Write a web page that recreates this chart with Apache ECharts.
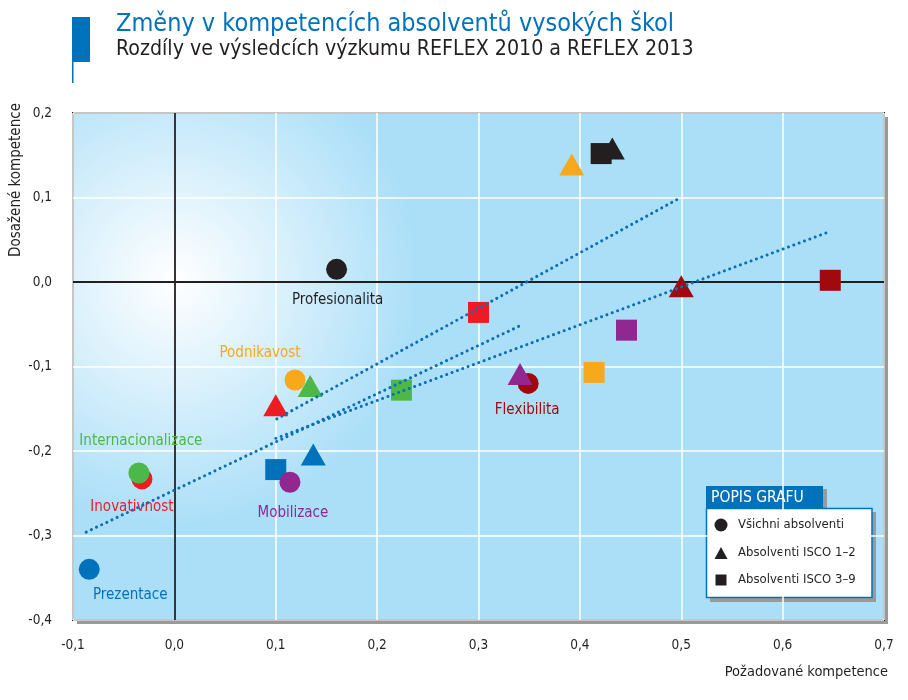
<!DOCTYPE html>
<html>
<head>
<meta charset="utf-8">
<script src="https://cdn.jsdelivr.net/npm/echarts@6/dist/echarts.min.js"></script>
<style>
html,body{margin:0;padding:0;background:#fff;}
#chart{width:908px;height:700px;}
</style>
</head>
<body>
<div id="chart"></div>
<script>
// ---- data ----
var categories = ['Profesionalita','Podnikavost','Inovativnost','Internacionalizace','Prezentace','Mobilizace','Flexibilita'];
// Všichni absolventi (circles)
var allX = [0.160, 0.119, -0.032, -0.035, -0.084, 0.114, 0.349];
var allY = [0.015, -0.116, -0.233, -0.226, -0.340, -0.237, -0.120];
// Absolventi ISCO 1–2 (triangles)
var isco12X = [0.432, 0.392, 0.100, 0.134, 0.137, 0.341, 0.500];
var isco12Y = [0.158, 0.139, -0.146, -0.123, -0.204, -0.109, -0.005];
// Absolventi ISCO 3–9 (squares)
var isco39X = [0.421, 0.414, 0.300, 0.224, 0.100, 0.446, 0.647];
var isco39Y = [0.152, -0.107, -0.036, -0.128, -0.222, -0.057, 0.002];
// trend lines (start/end)
var trendAllX = [-0.087, 0.344];
var trendAllY = [-0.296, -0.050];
var trend12X = [0.101, 0.498];
var trend12Y = [-0.162, 0.099];
var trend39X = [0.100, 0.645];
var trend39Y = [-0.185, 0.059];
var xTicks = [-0.1, 0.0, 0.1, 0.2, 0.3, 0.4, 0.5, 0.6, 0.7];
var yTicks = [-0.4, -0.3, -0.2, -0.1, 0.0, 0.1, 0.2];
var legendNames = ['Všichni absolventi', 'Absolventi ISCO 1–2', 'Absolventi ISCO 3–9'];

// ---- styles ----
var FONT = '"Liberation Sans Narrow","DejaVu Sans Condensed","Roboto",sans-serif';
var colors = ['#231f20','#f7a81b','#ed1c24','#4db848','#0072bc','#92278f','#a0090e'];
var labelOffsets = [[1,31],[-35,-27],[-10,28],[2,-32],[41,26],[3,31],[-1,27]];

function pairs(xs, ys){ return xs.map(function(x,i){ return [x, ys[i]]; }); }
function fmt(v){ return v.toFixed(1).replace('.', ','); }

var circleData = allX.map(function(x,i){
  return {
    name: categories[i], value: [x, allY[i]],
    itemStyle: {color: colors[i], opacity: 1},
    label: {show: true, position: 'inside', offset: labelOffsets[i], formatter: categories[i],
      color: colors[i], fontSize: 15, fontFamily: FONT}
  };
});
var triData = isco12X.map(function(x,i){
  return {name: categories[i], value: [x, isco12Y[i]], itemStyle: {color: colors[i], opacity: 1}};
});
var sqData = isco39X.map(function(x,i){
  return {name: categories[i], value: [x, isco39Y[i]], itemStyle: {color: colors[i], opacity: 1}};
});

var trendStyle = {color: '#0a6fb8', width: 3, type: [0.1, 5.6], cap: 'round', opacity: 1};
function trend(xs, ys){
  return {type: 'line', data: pairs(xs, ys), symbol: 'none', z: 6, silent: true,
    lineStyle: trendStyle, animation: false};
}

var chart = echarts.init(document.getElementById('chart'), null, {renderer: 'canvas'});
var option = {
  animation: false,
  textStyle: {fontFamily: FONT},
  grid: {
    left: 73, right: 24, top: 113, bottom: 80, show: true,
    backgroundColor: new echarts.graphic.RadialGradient(0.126, 0.33, 0.48, [
      {offset: 0, color: '#ffffff'},
      {offset: 1, color: '#abdff8'}
    ]),
    borderColor: '#231f20', borderWidth: 2
  },
  xAxis: {
    type: 'value', min: xTicks[0], max: xTicks[xTicks.length-1], interval: 0.1,
    axisLine: {show: false}, axisTick: {show: false},
    axisLabel: {formatter: fmt, color: '#231f20', fontSize: 13.5, fontFamily: FONT, margin: 18},
    splitLine: {show: true, lineStyle: {color: '#ffffff', width: 1.5}}
  },
  yAxis: {
    type: 'value', min: yTicks[0], max: yTicks[yTicks.length-1], interval: 0.1,
    axisLine: {show: false}, axisTick: {show: false},
    axisLabel: {formatter: fmt, color: '#231f20', fontSize: 13.5, fontFamily: FONT, margin: 21},
    splitLine: {show: true, lineStyle: {color: '#ffffff', width: 1.5}}
  },
  series: [
    {type: 'scatter', name: legendNames[2], symbol: 'rect', symbolSize: 21, data: sqData, z: 3,
      markLine: {silent: true, symbol: 'none', label: {show: false}, z: 2,
        lineStyle: {color: '#231f20', width: 1.8, type: 'solid'},
        data: [{xAxis: 0}, {yAxis: 0}]}},
    {type: 'scatter', name: legendNames[0], symbol: 'circle', symbolSize: 21, data: circleData, z: 4},
    {type: 'scatter', name: legendNames[1], symbol: 'triangle', symbolSize: [25, 22], data: triData, z: 5},
    trend(trendAllX, trendAllY),
    trend(trend12X, trend12Y),
    trend(trend39X, trend39Y)
  ],
  graphic: [
    // plot shadow
    {type: 'rect', z: -100, shape: {x: 77, y: 117, width: 811, height: 507}, style: {fill: '#9a9a9a'}},
    // title block
    {type: 'rect', shape: {x: 72, y: 17, width: 18, height: 45}, style: {fill: '#0072bc'}},
    {type: 'rect', shape: {x: 72, y: 60, width: 1.5, height: 23}, style: {fill: '#0072bc'}},
    {type: 'text', left: 116, top: 12, style: {text: 'Změny v kompetencích absolventů vysokých škol',
      fill: '#0072bc', font: '25px ' + FONT}},
    {type: 'text', left: 116, top: 39, style: {text: 'Rozdíly ve výsledcích výzkumu REFLEX 2010 a REFLEX 2013',
      fill: '#231f20', font: '21.2px ' + FONT}},
    // axis names
    {type: 'text', x: 16, y: 180, rotation: Math.PI/2, style: {text: 'Dosažené kompetence',
      fill: '#231f20', font: '15px ' + FONT, align: 'center', verticalAlign: 'middle'}},
    {type: 'text', x: 888, y: 672, style: {text: 'Požadované kompetence',
      fill: '#231f20', font: '14.5px ' + FONT, align: 'right', verticalAlign: 'middle'}},
    // legend
    {type: 'group', z: 20, children: [
      {type: 'rect', shape: {x: 710, y: 489, width: 117, height: 22}, style: {fill: '#9a9a9a'}},
      {type: 'rect', shape: {x: 710, y: 512, width: 166, height: 90}, style: {fill: '#9a9a9a'}},
      {type: 'rect', shape: {x: 706, y: 486, width: 117, height: 23}, style: {fill: '#0072bc'}},
      {type: 'rect', shape: {x: 706.5, y: 508.5, width: 165.5, height: 89}, style: {fill: '#ffffff', stroke: '#0072bc', lineWidth: 1.5}},
      {type: 'text', x: 711, y: 497.5, style: {text: 'POPIS GRAFU', fill: '#ffffff', font: '15.5px ' + FONT, verticalAlign: 'middle'}},
      {type: 'circle', shape: {cx: 721, cy: 525, r: 6.5}, style: {fill: '#231f20'}},
      {type: 'polygon', shape: {points: [[721, 547], [727.5, 559], [714.5, 559]]}, style: {fill: '#231f20'}},
      {type: 'rect', shape: {x: 715.5, y: 574.5, width: 11, height: 11}, style: {fill: '#231f20'}},
      {type: 'text', x: 738, y: 525, style: {text: legendNames[0], fill: '#231f20', font: '13px ' + FONT, verticalAlign: 'middle'}},
      {type: 'text', x: 738, y: 553, style: {text: legendNames[1], fill: '#231f20', font: '13px ' + FONT, verticalAlign: 'middle'}},
      {type: 'text', x: 738, y: 580, style: {text: legendNames[2], fill: '#231f20', font: '13px ' + FONT, verticalAlign: 'middle'}}
    ]}
  ]
};
chart.setOption(option);
</script>
</body>
</html>
